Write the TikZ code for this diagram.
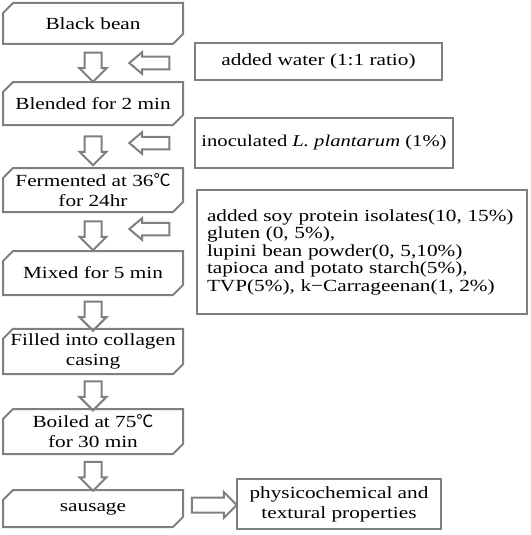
\documentclass[tikz,border=0pt]{standalone}
\usepackage{fontspec}
\setmainfont{Liberation Serif}[FakeStretch=1.25]
\newfontfamily\symfont{Noto Sans CJK KR}
\usetikzlibrary{shapes.misc,shapes.arrows,calc}
\definecolor{boxgray}{RGB}{127,127,127}
\newcommand{\degc}{{\symfont ℃}}

\begin{document}
\begin{tikzpicture}[x=1pt, y=-1pt,
  font=\fontsize{17}{20}\selectfont,
  proc/.style = {shape=chamfered rectangle,
    chamfered rectangle corners={north west,south east},
    chamfered rectangle xsep=5pt, chamfered rectangle ysep=5pt,
    draw=boxgray, line width=2pt, align=center, inner sep=0pt,
    minimum width=180pt},
  side/.style = {shape=rectangle, draw=boxgray, line width=2pt,
    align=center, inner sep=0pt},
  darr/.style = {single arrow, shape border rotate=270, draw=boxgray,
    line width=2pt, inner sep=7.5pt, single arrow head extend=5pt,
    minimum height=29pt},
  larr/.style = {single arrow, shape border rotate=180, draw=boxgray,
    line width=2pt, inner sep=5.25pt, single arrow head extend=4.5pt,
    single arrow tip angle=80, minimum height=40pt},
  rarr/.style = {single arrow, draw=boxgray,
    line width=2pt, inner sep=6.5pt, single arrow head extend=5.5pt,
    minimum height=45pt}]
  \useasboundingbox (0,0) rectangle (530,535);

  % process steps
  \node[proc, minimum height=41pt] (bean) at (93,23.5) {Black bean};
  \node[proc, minimum height=43pt] (blend) at (93,103.5) {Blended for 2 min};
  \node[proc, minimum height=44pt] (ferm) at (93,190) {Fermented at 36\degc\\for 24hr};
  \node[proc, minimum height=44pt] (mix) at (93,273) {Mixed for 5 min};
  \node[proc, minimum height=43pt] (fill) at (93,351.5) {Filled into collagen\\casing};
  \node[proc, minimum height=45pt] (boil) at (93,431.5) {Boiled at 75\degc\\for 30 min};
  \node[proc, minimum height=37pt] (saus) at (93,508.5) {sausage};

  % down arrows
  \node[darr] (d1) at ($(bean.south)!0.5!(blend.north)$) {};
  \node[darr] (d2) at ($(blend.south)!0.5!(ferm.north)$) {};
  \node[darr] (d3) at ($(ferm.south)!0.5!(mix.north)$) {};
  \node[darr] (d4) at ($(mix.south)!0.5!(fill.north)$) {};
  \node[darr] (d5) at ($(fill.south)!0.5!(boil.north)$) {};
  \node[darr] (d6) at ($(boil.south)!0.5!(saus.north)$) {};

  % additions
  \node[side, minimum width=247pt, minimum height=37pt] (water) at (318.5,61.5)
    {added water (1:1 ratio)};
  \node[side, minimum width=258pt, minimum height=50pt,
    font=\fontsize{16.5}{20}\selectfont] (lacto) at (324,143)
    {inoculated \textit{L. plantarum} (1\%)};
  \node[side, minimum width=330pt, minimum height=124pt, align=left,
    text width=310pt, font=\fontsize{17}{17.5}\selectfont] (extra) at (362,252)
    {added soy protein isolates(10, 15\%)\\
     gluten (0, 5\%),\\
     lupini bean powder(0, 5,10\%)\\
     tapioca and potato starch(5\%),\\
     TVP(5\%), k−Carrageenan(1, 2\%)};
  \node[larr] (l1) at (153,63) {};
  \node[larr] (l2) at (153,143) {};
  \node[larr] (l3) at (153,229) {};

  % analysis
  \node[side, minimum width=204pt, minimum height=50pt] (prop) at (339,504)
    {physicochemical and\\textural properties};
  \node[rarr] (r1) at (210.5,505) {};
\end{tikzpicture}
\end{document}
